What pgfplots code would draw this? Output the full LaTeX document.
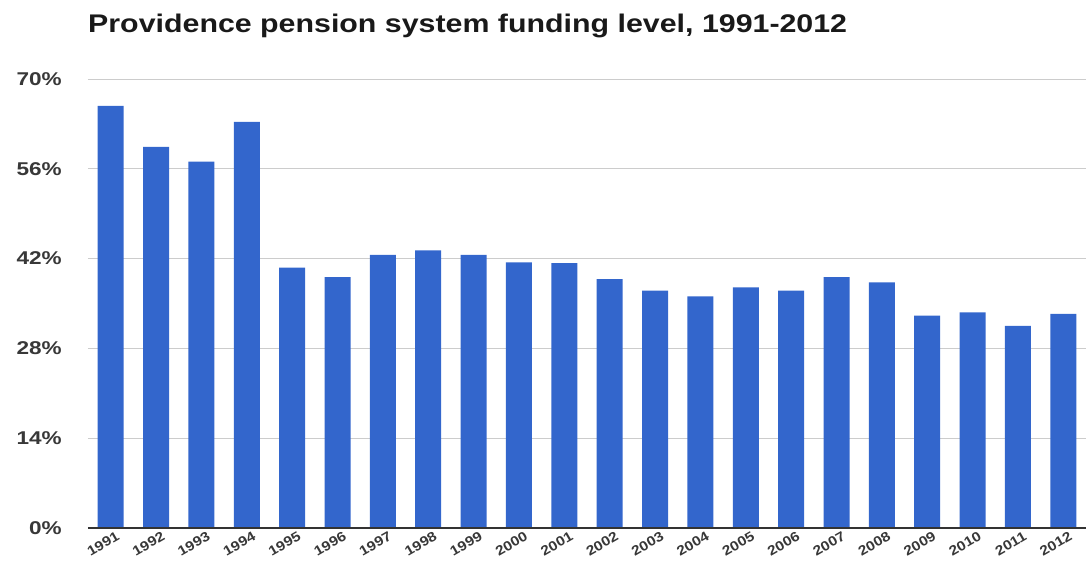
\documentclass[border=0pt]{standalone}
\usepackage{fontspec}
\setmainfont{Liberation Sans}
\usepackage{graphicx}
\usepackage{pgfplots}
\pgfplotsset{compat=1.18}
\definecolor{barblue}{HTML}{3366CC}
\definecolor{gridgray}{HTML}{CCCCCC}
\definecolor{labgray}{HTML}{383838}
\definecolor{basegray}{HTML}{333333}
\newcommand{\ys}[1]{\scalebox{1.22}[1]{#1}}
\newcommand{\xs}[1]{\scalebox{1.15}[1]{#1}}
\begin{document}
\begin{tikzpicture}
\useasboundingbox (0,0) rectangle (1086pt,579pt);
\node[anchor=base west, inner sep=0pt, text=black!90] at (88pt,546pt)
  {\scalebox{1.19}[1]{\fontsize{25.5pt}{28pt}\selectfont\bfseries Providence pension system funding level, 1991-2012}};
\begin{axis}[
  at={(88pt,51pt)}, anchor=south west,
  scale only axis,
  width=998pt, height=449pt,
  xmin=-0.5, xmax=21.5,
  ymin=0, ymax=70,
  ytick={0,14,28,42,56,70},
  yticklabels={\ys{0\%},\ys{14\%},\ys{28\%},\ys{42\%},\ys{56\%},\ys{70\%}},
  yticklabel style={anchor=east, inner sep=0pt, xshift=-26pt, text=labgray,
    font=\fontsize{18.5pt}{20pt}\selectfont\bfseries},
  xtick={0,...,21},
  xticklabels={\xs{1991},\xs{1992},\xs{1993},\xs{1994},\xs{1995},\xs{1996},\xs{1997},\xs{1998},\xs{1999},\xs{2000},\xs{2001},\xs{2002},\xs{2003},\xs{2004},\xs{2005},\xs{2006},\xs{2007},\xs{2008},\xs{2009},\xs{2010},\xs{2011},\xs{2012}},
  xticklabel style={rotate=30, anchor=north east, inner sep=0pt, xshift=3pt, yshift=-5pt,
    text=labgray, font=\fontsize{13.5pt}{14pt}\selectfont\bfseries},
  major tick length=0pt,
  tick style={draw=none},
  axis line style={draw=none},
  ymajorgrids,
  major grid style={draw=gridgray, line width=1pt},
  ybar, bar width=26pt,
  clip=false,
]
\addplot[fill=barblue, draw=none] coordinates {
(0,65.8) (1,59.4) (2,57.1) (3,63.3) (4,40.6) (5,39.1) (6,42.6) (7,43.3)
(8,42.6) (9,41.4) (10,41.3) (11,38.8) (12,37.0) (13,36.1) (14,37.5)
(15,37.0) (16,39.1) (17,38.3) (18,33.1) (19,33.6) (20,31.5) (21,33.4)
};
\draw[basegray, line width=1.3pt] (axis cs:-0.5,0) -- (axis cs:21.5,0);
\end{axis}
\end{tikzpicture}
\end{document}
